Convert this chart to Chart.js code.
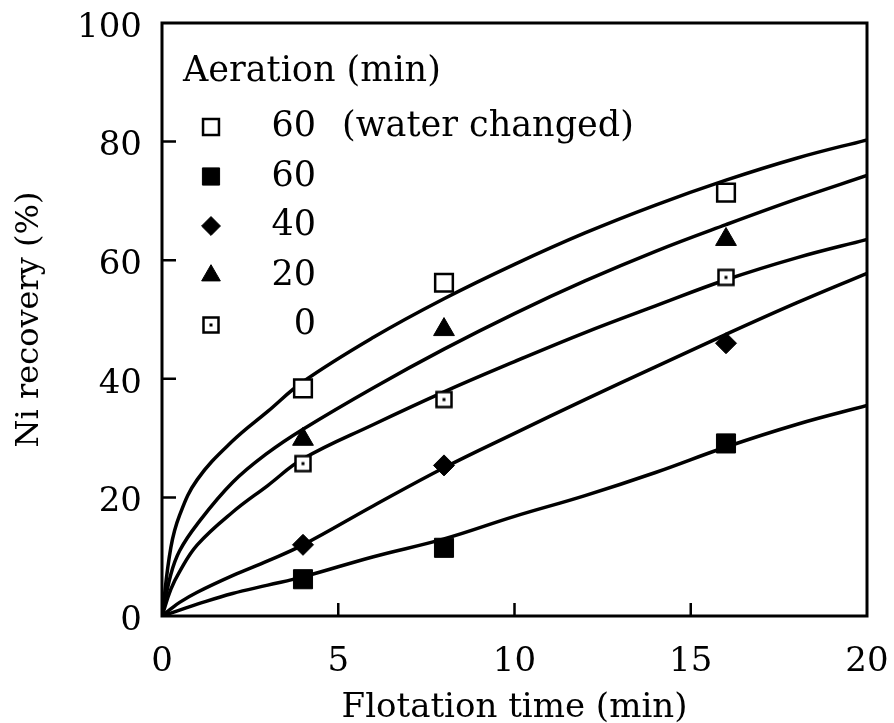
<!DOCTYPE html>
<html>
<head>
<meta charset="utf-8">
<script src="https://cdn.jsdelivr.net/npm/chart.js@4/dist/chart.umd.min.js"></script>
<style>
  html, body { margin: 0; padding: 0; background: #fff; }
  #wrap { width: 894px; height: 723px; }
</style>
</head>
<body>
<div id="wrap"><canvas id="chart_div" width="894" height="723"></canvas></div>
<script>
const FONT = "'DejaVu Serif', 'Liberation Serif', serif";

// measured points
const pointTimes = [4, 8, 16];
const waterChanged = [38.4, 56.2, 71.4];
const aer60 = [6.2, 11.5, 29.1];
const aer40 = [12, 25.4, 46];
const aer20 = [29.8, 48.3, 63.5];
const aer0 = [25.7, 36.5, 57.1];

// fitted curves, sampled along flotation time
const curveTimes = [0, 0.25, 0.5, 1, 2, 3, 4, 6, 8, 10, 12, 14, 16, 18, 20];
const curveWater = [0, 11.5, 17, 23, 29.5, 34.5, 39.5, 47, 53.5, 59.3, 64.6, 69.3, 73.5, 77.2, 80.3];
const curve20 = [0, 7, 11, 15.5, 22.5, 27.5, 31.5, 38.5, 45, 51, 56.5, 61.5, 66, 70.3, 74.3];
const curve0 = [0, 4.5, 7.5, 12, 17.5, 22, 26.5, 32.3, 37.8, 42.9, 47.8, 52.3, 56.7, 60.4, 63.5];
const curve40 = [0, 1.2, 2.3, 4, 6.8, 9.3, 12, 18.6, 25, 30.8, 36.5, 42, 47.5, 52.8, 57.8];
const curve60 = [0, 0.5, 1, 2, 3.8, 5.2, 6.6, 10, 13, 16.8, 20.3, 24.2, 28.5, 32.3, 35.5];

const xTicks = [0, 5, 10, 15, 20];
const yTicks = [0, 20, 40, 60, 80, 100];

const legendTitle = 'Aeration (min)';
const legendLabels = ['60', '60', '40', '20', '0'];
const legendNote = '(water changed)';

function xy(xs, ys) {
  return xs.map((x, i) => ({ x: x, y: ys[i] }));
}

// open square with a dot in the middle
function dotSquare() {
  const c = document.createElement('canvas');
  c.width = 20; c.height = 20;
  const g = c.getContext('2d');
  g.fillStyle = '#fff';
  g.fillRect(2, 2, 16, 16);
  g.strokeStyle = '#000';
  g.lineWidth = 2.5;
  g.strokeRect(2.5, 2.5, 15, 15);
  g.fillStyle = '#000';
  g.fillRect(8.5, 8.5, 3, 3);
  return c;
}
const dotSq = dotSquare();

const markers = [
  { pointStyle: 'rect', radius: 12.5, backgroundColor: '#fff', borderColor: '#000', borderWidth: 2.5 },
  { pointStyle: 'rect', radius: 13.5, backgroundColor: '#000', borderColor: '#000', borderWidth: 1 },
  { pointStyle: 'rectRot', radius: 10.5, backgroundColor: '#000', borderColor: '#000', borderWidth: 1 },
  { pointStyle: 'triangle', radius: 12, backgroundColor: '#000', borderColor: '#000', borderWidth: 1 },
  { pointStyle: dotSq, radius: 10, backgroundColor: '#fff', borderColor: '#000', borderWidth: 1 }
];
const pointSeries = [waterChanged, aer60, aer40, aer20, aer0];
const curveSeries = [curveWater, curve60, curve40, curve20, curve0];

const datasets = [];
curveSeries.forEach(ys => {
  datasets.push({
    data: xy(curveTimes, ys),
    showLine: true,
    borderColor: '#000',
    borderWidth: 3.5,
    pointRadius: 0,
    tension: 0.4,
    order: 2
  });
});
pointSeries.forEach((ys, i) => {
  const m = markers[i];
  datasets.push({
    data: xy(pointTimes, ys),
    showLine: false,
    pointStyle: m.pointStyle,
    pointRadius: m.radius,
    pointBackgroundColor: m.backgroundColor,
    pointBorderColor: m.borderColor,
    pointBorderWidth: m.borderWidth,
    order: 1
  });
});

// frame, inward ticks and the legend block
const decor = {
  id: 'decor',
  afterDraw(chart) {
    const ctx = chart.ctx;
    const a = chart.chartArea;
    const xs = chart.scales.x, ys = chart.scales.y;
    ctx.save();
    ctx.strokeStyle = '#000';
    ctx.lineWidth = 3;
    ctx.strokeRect(a.left, a.top, a.right - a.left, a.bottom - a.top);

    ctx.lineWidth = 2.5;
    ctx.beginPath();
    xTicks.slice(1, -1).forEach(v => {
      const px = xs.getPixelForValue(v);
      ctx.moveTo(px, a.bottom);
      ctx.lineTo(px, a.bottom - 13);
    });
    yTicks.slice(1, -1).forEach(v => {
      const py = ys.getPixelForValue(v);
      ctx.moveTo(a.left, py);
      ctx.lineTo(a.left + 14, py);
    });
    ctx.stroke();

    ctx.fillStyle = '#000';
    ctx.font = '35px ' + FONT;
    ctx.textBaseline = 'middle';
    ctx.textAlign = 'left';
    ctx.fillText(legendTitle, 183, 72);
    legendLabels.forEach((lab, i) => {
      const y = 127 + i * 49.5;
      const m = markers[i];
      ctx.fillStyle = m.backgroundColor;
      ctx.strokeStyle = m.borderColor;
      ctx.lineWidth = m.borderWidth;
      Chart.helpers.drawPoint(ctx, { pointStyle: m.pointStyle, radius: m.radius * 0.9, rotation: 0, borderWidth: m.borderWidth }, 211, y);
      ctx.fillStyle = '#000';
      ctx.textAlign = 'right';
      ctx.fillText(lab, 316, y);
    });
    ctx.textAlign = 'left';
    ctx.fillText(legendNote, 342, 127);
    ctx.restore();
  }
};

const ctx = document.getElementById('chart_div');
new Chart(ctx, {
  type: 'scatter',
  data: { datasets: datasets },
  plugins: [decor],
  options: {
    responsive: false,
    animation: false,
    layout: { padding: { top: 23, right: 27, left: 0, bottom: 0 } },
    plugins: {
      legend: { display: false },
      tooltip: { enabled: false }
    },
    scales: {
      x: {
        type: 'linear',
        min: 0,
        max: 20,
        afterBuildTicks: s => { s.ticks = xTicks.map(v => ({ value: v })); },
        afterFit: s => { s.height = 107; s.paddingLeft = 0; s.paddingRight = 0; },
        grid: { display: false, drawTicks: false },
        border: { display: false },
        ticks: { color: '#000', padding: 26, maxRotation: 0, font: { family: FONT, size: 34 } },
        title: { display: true, text: 'Flotation time (min)', color: '#000', padding: 0, font: { family: FONT, size: 34, lineHeight: 0.9 } }
      },
      y: {
        type: 'linear',
        min: 0,
        max: 100,
        afterBuildTicks: s => { s.ticks = yTicks.map(v => ({ value: v })); },
        afterFit: s => { s.width = 162; s.paddingTop = 0; s.paddingBottom = 0; },
        grid: { display: false, drawTicks: false },
        border: { display: false },
        ticks: { color: '#000', padding: 20, labelOffset: 5, font: { family: FONT, size: 34 } },
        title: { display: true, text: 'Ni recovery (%)', color: '#000', padding: { top: 10 }, font: { family: FONT, size: 32 } }
      }
    }
  }
});
</script>
</body>
</html>
